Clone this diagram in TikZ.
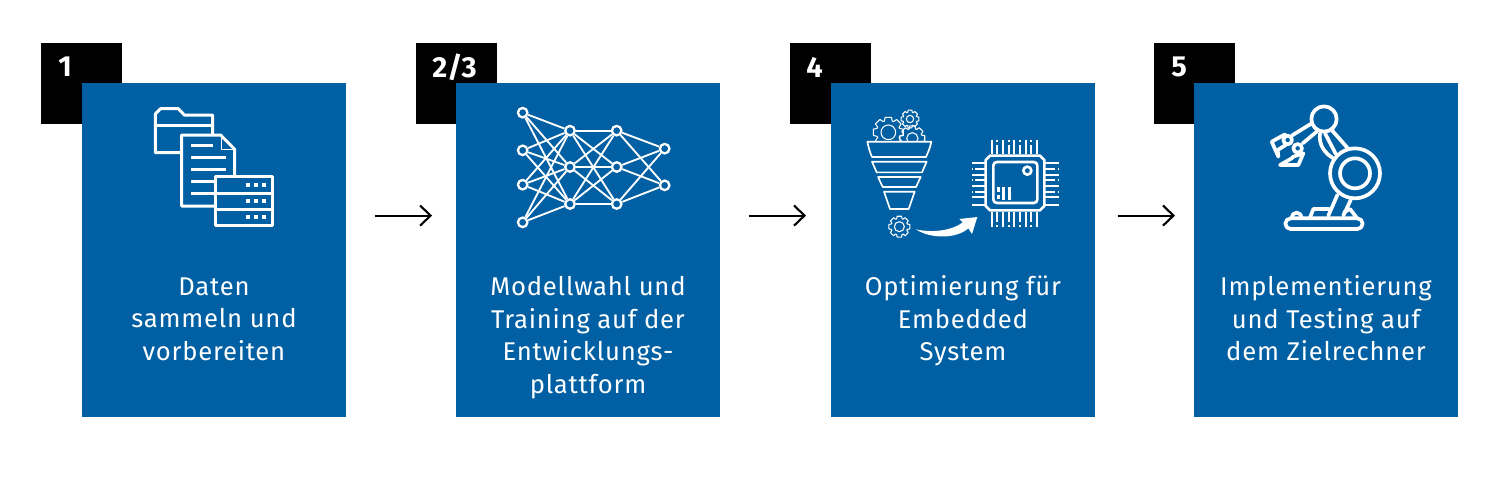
\documentclass[tikz,border=0pt]{standalone}
\usepackage{fontspec}
\usetikzlibrary{arrows.meta,calc}
\setmainfont{Fira Sans}
\definecolor{boxblue}{HTML}{0060A3}
\tikzset{
	bluebox/.style={fill=boxblue, minimum width=5.28cm, minimum height=6.67cm, inner sep=0, anchor=north west},
	numbox/.style={fill=black, minimum width=1.62cm, minimum height=1.62cm, inner sep=0, anchor=north west},
	numtext/.style={text=white, anchor=west, inner sep=0, font=\fontsize{16.5}{18}\selectfont\bfseries},
	boxtext/.style={text=white, align=center, anchor=north, inner sep=0, font=\addfontfeatures{LetterSpace=3}\fontsize{14.6}{18.5}\selectfont},
	flowarrow/.style={-{Straight Barb[length=6pt,width=11.5pt,line width=1.2pt]}, line width=1.2pt, black},
	iconline/.style={draw=white, line width=1.7pt, line join=round},
	robotline/.style={draw=white, line width=2.1pt, line join=round, line cap=round},
	thinline/.style={draw=white, line width=0.95pt, line join=round},
	chipline/.style={draw=white, line width=1.5pt, line join=round},
	pinline/.style={draw=white, line width=1.15pt},
	pindash/.style={pinline, dash pattern=on 5.5pt off 1.5pt on 1.5pt off 1.5pt on 1.5pt off 10pt},
	gearline/.style={draw=white, line width=0.6pt, line join=round},
	netnode/.style={circle, draw=white, fill=boxblue, line width=1.3pt, minimum size=1.9mm, inner sep=0},
	netline/.style={draw=white, line width=1.05pt},
}
% Zahnrad: Mitte, Aussenradius, Innenradius
\newcommand{\gearwheel}[3]{
	\draw[gearline] ($(#1)+(-12:#2)$) \foreach \k in {0,45,...,315}{
		-- ($(#1)+(\k-12:#2)$) -- ($(#1)+(\k+12:#2)$) -- ($(#1)+(\k+19:#2*0.78)$) -- ($(#1)+(\k+26:#2*0.78)$)
	} -- cycle;
	\draw[gearline] (#1) circle (#3);
}
\begin{document}
\begin{tikzpicture}[x=0.02cm,y=-0.02cm]
	\useasboundingbox (0,0) rectangle (1500,488);

	% Schritte
	\node[numbox] (num1) at (41,43) {};
	\node[numbox] (num2) at (416,43) {};
	\node[numbox] (num3) at (790,43) {};
	\node[numbox] (num4) at (1154,43) {};
	\node[bluebox] (box1) at (82,83) {};
	\node[bluebox] (box2) at (456,83) {};
	\node[bluebox] (box3) at (831,83) {};
	\node[bluebox] (box4) at (1194,83) {};

	\node[numtext] (label1) at (58,67) {1};
	\node[numtext] (label2) at (432,67) {2/3};
	\node[numtext] (label3) at (806,67) {4};
	\node[numtext] (label4) at (1171,67) {5};

	\node[boxtext] (text1) at (214,277) {Daten\\sammeln und\\vorbereiten};
	\node[boxtext] (text2) at (588,276) {Modellwahl und\\Training auf der\\Entwicklungs-\\plattform};
	\node[boxtext] (text3) at (963,275.5) {Optimierung für\\Embedded\\System};
	\node[boxtext] (text4) at (1326,275.5) {Implementierung\\und Testing auf\\dem Zielrechner};

	% Pfeile
	\draw[flowarrow, shorten <=15.9pt, shorten >=13.6pt] ([yshift=0.69cm]box1.east) -- ([yshift=0.69cm]box2.west);
	\draw[flowarrow, shorten <=15.9pt, shorten >=14.2pt] ([yshift=0.69cm]box2.east) -- ([yshift=0.69cm]box3.west);
	\draw[flowarrow, shorten <=12.5pt, shorten >=10.8pt] ([yshift=0.69cm]box3.east) -- ([yshift=0.69cm]box4.west);

	% Ordner, Dokument, Server
	\begin{scope}[shift={(130,90)},scale=1/3]
		\draw[iconline] (152,188) -- (76,188) -- (76,72) -- (92,56) -- (145,56) -- (163,75) -- (248,75) -- (248,135);
		\draw[iconline] (76,107) -- (248,107);
		\draw[iconline] (255,348) -- (155,348) -- (155,135) -- (272,135) -- (314,178) -- (314,260);
		\draw[thinline] (274,138) -- (274,178) -- (314,178);
		\foreach \y/\xend in {165/250,202/287,238/287,274/255,310/255}
			\draw[iconline] (183,\y) -- (\xend,\y);
		\draw[iconline] (257,260) rectangle (427,407);
		\draw[iconline] (257,310) -- (427,310);
		\draw[iconline] (257,358) -- (427,358);
		\foreach \y in {286,334,381}
			\foreach \x in {353,378,401}
				\fill[white] (\x-6,\y-6) rectangle (\x+6,\y+6);
	\end{scope}

	% Netz
	\begin{scope}[shift={(500,90)},scale=1/3]
		\node[netnode] (a1) at (68,68) {};
		\node[netnode] (a2) at (68,181) {};
		\node[netnode] (a3) at (68,284) {};
		\node[netnode] (a4) at (68,397) {};
		\node[netnode] (b1) at (210,122) {};
		\node[netnode] (b2) at (210,231) {};
		\node[netnode] (b3) at (210,342) {};
		\node[netnode] (c1) at (350,122) {};
		\node[netnode] (c2) at (350,231) {};
		\node[netnode] (c3) at (350,342) {};
		\node[netnode] (d1) at (494,176) {};
		\node[netnode] (d2) at (494,286) {};
		\foreach \i in {1,2,3,4}
			\foreach \j in {1,2,3}
				\draw[netline] (a\i) -- (b\j);
		\foreach \i in {1,2,3}
			\foreach \j in {1,2,3}
				\draw[netline] (b\i) -- (c\j);
		\foreach \i in {1,2,3}
			\foreach \j in {1,2}
				\draw[netline] (c\i) -- (d\j);
	\end{scope}

	% Trichter und Chip
	\begin{scope}[shift={(850,95)},scale=1/3]
		\begin{scope}
			\clip (40,30) rectangle (260,135);
			\gearwheel{115,112}{46}{22}
			\gearwheel{187,130}{38}{17}
		\end{scope}
		\gearwheel{180,72}{27}{11}
		\gearwheel{148,395}{32}{15}
		\draw[thinline] (52,140) -- (244,140) .. controls (240,160) and (234,172) .. (228,186) -- (66,186) .. controls (60,172) and (56,160) .. (52,140) -- cycle;
		\draw[thinline] (66,200) -- (230,200) -- (216,232) -- (80,232) -- cycle;
		\draw[thinline] (84,246) -- (212,246) -- (198,276) -- (98,276) -- cycle;
		\draw[thinline] (102,290) -- (194,290) -- (176,342) -- (120,342) -- cycle;
		\fill[white] (198,403) .. controls (250,415) and (310,405) .. (338,382) -- (328,372) -- (382,366) -- (366,417) -- (355,400) .. controls (320,432) and (240,432) .. (198,403) -- cycle;
		% Chip
		\draw[chipline] (420,182) -- (570,182) -- (583,195) -- (583,333) -- (570,346) -- (420,346) -- (407,333) -- (407,195) -- cycle;
		\draw[chipline, rounded corners=2pt] (430,201) rectangle (562,324);
		\draw[chipline] (532,227) circle (12);
		\draw[chipline] (461,276) -- (461,316);
		\draw[chipline] (479,276) -- (479,316);
		\draw[pinline, line width=1.4pt, dash pattern=on 2.4pt off 1.7pt] (445,277) -- (445,316);
		\foreach \x in {425,459,493,527,561} {
			\draw[pinline] (\x,134) -- (\x,178);
			\draw[pinline] (\x,352) -- (\x,396);
		}
		\foreach \x in {442,476,510,544} {
			\draw[pindash] (\x,178) -- (\x,134);
			\draw[pindash] (\x,352) -- (\x,396);
		}
		\foreach \y in {205,239,273,307,329} {
			\draw[pinline] (365,\y) -- (404,\y);
			\draw[pinline] (586,\y) -- (628,\y);
		}
		\foreach \y in {222,256,290} {
			\draw[pindash] (404,\y) -- (365,\y);
			\draw[pindash] (586,\y) -- (628,\y);
		}
	\end{scope}

	% Roboterarm
	\begin{scope}[shift={(1250,95)},scale=1/3]
		\draw[robotline] (122,370) -- (322,370) arc (-90:90:16) -- (122,402) arc (90:270:16) -- cycle;
		\draw[robotline] (125,368) arc (180:360:15);
		\draw[robotline] (180,368) -- (190,342) -- (238,342);
		\draw[robotline] (282,352) -- (300,342) -- (320,368);
		\draw[robotline] (262,300) -- (235,362);
		\draw[robotline] (302,315) -- (280,362);
		\draw[robotline] (245,105) -- (298,165);
		\draw[robotline] (225,115) -- (258,178);
		\draw[robotline] (210,115) .. controls (205,150) and (225,175) .. (250,190);
		\draw[robotline] (190,82) -- (125,122);
		\draw[robotline] (200,110) -- (158,145);
		\draw[robotline, fill=boxblue] (222,72) circle (38);
		\draw[robotline, fill=boxblue] (315,235) circle (75);
		\draw[robotline] (315,235) circle (45);
		\draw[robotline] (105,118) -- (65,140) -- (85,185) -- (83,165) -- (107,150);
		\draw[robotline] (90,210) -- (145,210) -- (160,175) -- (130,185) -- (125,190) -- cycle;
		\draw[robotline, fill=boxblue] (113,135) circle (13);
		\draw[robotline, fill=boxblue] (143,160) circle (13);
	\end{scope}
\end{tikzpicture}
\end{document}
